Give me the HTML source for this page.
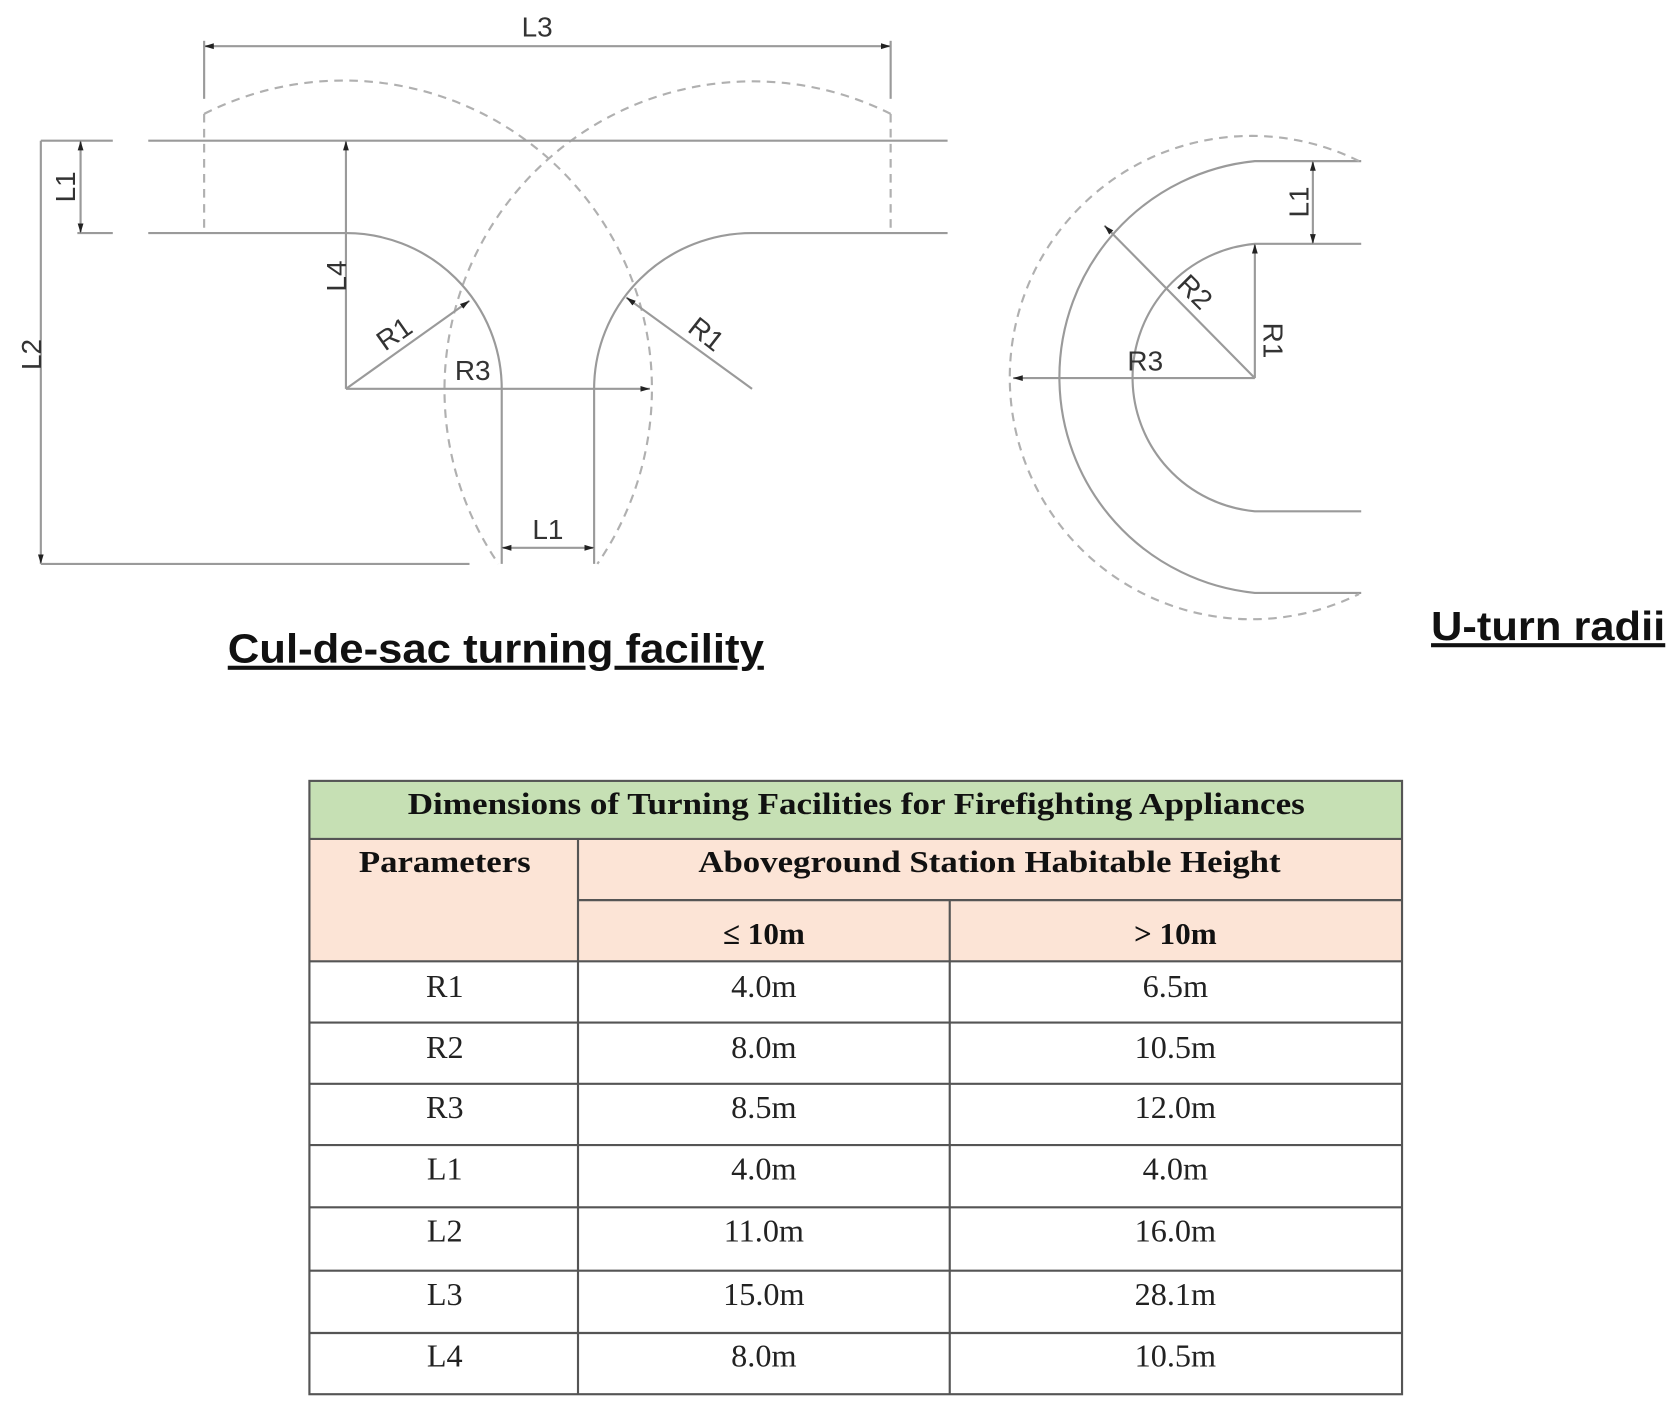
<!DOCTYPE html>
<html><head><meta charset="utf-8"><style>
html,body{margin:0;padding:0;background:#fff;width:1676px;height:1420px;overflow:hidden}
svg{display:block}
.s{stroke:#9a9a9a;stroke-width:2;fill:none}
.d{stroke:#b0b0b0;stroke-width:2;fill:none;stroke-dasharray:8 6}
.t{font-family:"Liberation Sans",Arial,sans-serif;font-size:26px;fill:#333}
.h{font-family:"Liberation Serif",serif;font-weight:bold;font-size:29px;fill:#111;text-anchor:middle}
.c{font-family:"Liberation Serif",serif;font-size:30px;fill:#222;text-anchor:middle}
</style></head><body>
<svg width="1676" height="1420" viewBox="0 0 1560 1322" preserveAspectRatio="none">
<defs><marker id="a" viewBox="0 0 10 10" refX="10" refY="5" markerWidth="9" markerHeight="9" orient="auto-start-reverse" markerUnits="userSpaceOnUse"><path d="M0,2L10,5L0,8z" fill="#222"/></marker></defs>
<!-- Cul-de-sac -->
<line class="s" x1="190" y1="43" x2="829" y2="43" marker-start="url(#a)" marker-end="url(#a)"/>
<line class="s" x1="190" y1="38" x2="190" y2="92"/><line class="s" x1="829" y1="38" x2="829" y2="92"/>
<text class="t" x="500" y="34" text-anchor="middle">L3</text>
<path class="d" d="M190,106 A287,287 0 0 1 556,525"/>
<path class="d" d="M829,106 A287,287 0 0 0 464,525"/>
<line class="d" x1="190" y1="106" x2="190" y2="217"/><line class="d" x1="829" y1="106" x2="829" y2="217"/>
<line class="s" x1="138" y1="131" x2="882" y2="131"/>
<path class="s" d="M138,217 H320 A145,145 0 0 1 467,362 V525"/>
<path class="s" d="M882,217 H700 A147,145 0 0 0 553,362 V525"/>
<line class="s" x1="38" y1="131" x2="105" y2="131"/><line class="s" x1="72" y1="217" x2="105" y2="217"/>
<line class="s" x1="75" y1="131" x2="75" y2="217" marker-start="url(#a)" marker-end="url(#a)"/>
<text class="t" transform="translate(70,174) rotate(-90)" text-anchor="middle">L1</text>
<line class="s" x1="38" y1="131" x2="38" y2="525" marker-end="url(#a)"/>
<line class="s" x1="38" y1="525" x2="437" y2="525"/>
<text class="t" transform="translate(38,330) rotate(-90)" text-anchor="middle">L2</text>
<line class="s" x1="322" y1="362" x2="322" y2="131" marker-end="url(#a)"/>
<text class="t" transform="translate(322,257) rotate(-90)" text-anchor="middle">L4</text>
<line class="s" x1="322" y1="362" x2="437" y2="280" marker-end="url(#a)"/>
<text class="t" transform="translate(372,318) rotate(-35)" text-anchor="middle">R1</text>
<line class="s" x1="322" y1="362" x2="605" y2="362" marker-end="url(#a)"/>
<text class="t" x="440" y="354" text-anchor="middle">R3</text>
<line class="s" x1="700" y1="362" x2="583" y2="277" marker-end="url(#a)"/>
<text class="t" transform="translate(652,318) rotate(38)" text-anchor="middle">R1</text>
<line class="s" x1="467" y1="510" x2="553" y2="510" marker-start="url(#a)" marker-end="url(#a)"/>
<text class="t" x="510" y="502" text-anchor="middle">L1</text>
<text x="212" y="617" textLength="499" lengthAdjust="spacingAndGlyphs" style="font-family:'Liberation Sans',Arial,sans-serif;font-weight:bold;font-size:38px;text-decoration:underline;fill:#111">Cul-de-sac turning facility</text>
<!-- U-turn -->
<path class="s" d="M1267,227 H1168 A125,125 0 0 0 1168,476 H1267"/>
<path class="s" d="M1267,150 H1168 A202,202 0 0 0 1168,552 H1267"/>
<path class="d" d="M1265,150 A225,225 0 1 0 1265,553"/>
<line class="s" x1="1222" y1="150" x2="1222" y2="227" marker-start="url(#a)" marker-end="url(#a)"/>
<text class="t" transform="translate(1218,188) rotate(-90)" text-anchor="middle">L1</text>
<line class="s" x1="1168" y1="352" x2="1028" y2="210" marker-end="url(#a)"/>
<text class="t" transform="translate(1106,278) rotate(45)" text-anchor="middle">R2</text>
<line class="s" x1="1168" y1="352" x2="1168" y2="227" marker-end="url(#a)"/>
<text class="t" transform="translate(1176,317) rotate(90)" text-anchor="middle">R1</text>
<line class="s" x1="1168" y1="352" x2="943" y2="352" marker-end="url(#a)"/>
<text class="t" x="1066" y="345" text-anchor="middle">R3</text>
<text x="1332" y="596" textLength="218" lengthAdjust="spacingAndGlyphs" style="font-family:'Liberation Sans',Arial,sans-serif;font-weight:bold;font-size:38px;text-decoration:underline;fill:#111">U-turn radii</text>
<!-- Table -->
<rect x="288" y="727" width="1017" height="54" fill="#c6e0b4"/>
<rect x="288" y="781" width="1017" height="114" fill="#fce4d6"/>
<g stroke="#555" stroke-width="2" fill="none">
<rect x="288" y="727" width="1017" height="571"/>
<line x1="288" y1="781" x2="1305" y2="781"/>
<line x1="538" y1="838" x2="1305" y2="838"/>
<line x1="288" y1="895" x2="1305" y2="895"/>
<line x1="288" y1="952" x2="1305" y2="952"/>
<line x1="288" y1="1009" x2="1305" y2="1009"/>
<line x1="288" y1="1066" x2="1305" y2="1066"/>
<line x1="288" y1="1124" x2="1305" y2="1124"/>
<line x1="288" y1="1183" x2="1305" y2="1183"/>
<line x1="288" y1="1241" x2="1305" y2="1241"/>
<line x1="538" y1="781" x2="538" y2="1298"/>
<line x1="884" y1="838" x2="884" y2="1298"/>
</g>
<text class="h" x="797" y="758" textLength="835" lengthAdjust="spacingAndGlyphs">Dimensions of Turning Facilities for Firefighting Appliances</text>
<text class="h" x="414" y="812" textLength="160" lengthAdjust="spacingAndGlyphs">Parameters</text>
<text class="h" x="921" y="812" textLength="542" lengthAdjust="spacingAndGlyphs">Aboveground Station Habitable Height</text>
<text class="h" x="711" y="879">≤ 10m</text>
<text class="h" x="1094" y="879">&gt; 10m</text>
<g>
<text class="c" x="414" y="928">R1</text><text class="c" x="711" y="928">4.0m</text><text class="c" x="1094" y="928">6.5m</text>
<text class="c" x="414" y="985">R2</text><text class="c" x="711" y="985">8.0m</text><text class="c" x="1094" y="985">10.5m</text>
<text class="c" x="414" y="1041">R3</text><text class="c" x="711" y="1041">8.5m</text><text class="c" x="1094" y="1041">12.0m</text>
<text class="c" x="414" y="1098">L1</text><text class="c" x="711" y="1098">4.0m</text><text class="c" x="1094" y="1098">4.0m</text>
<text class="c" x="414" y="1156">L2</text><text class="c" x="711" y="1156">11.0m</text><text class="c" x="1094" y="1156">16.0m</text>
<text class="c" x="414" y="1215">L3</text><text class="c" x="711" y="1215">15.0m</text><text class="c" x="1094" y="1215">28.1m</text>
<text class="c" x="414" y="1272">L4</text><text class="c" x="711" y="1272">8.0m</text><text class="c" x="1094" y="1272">10.5m</text>
</g>
</svg>
</body></html>
